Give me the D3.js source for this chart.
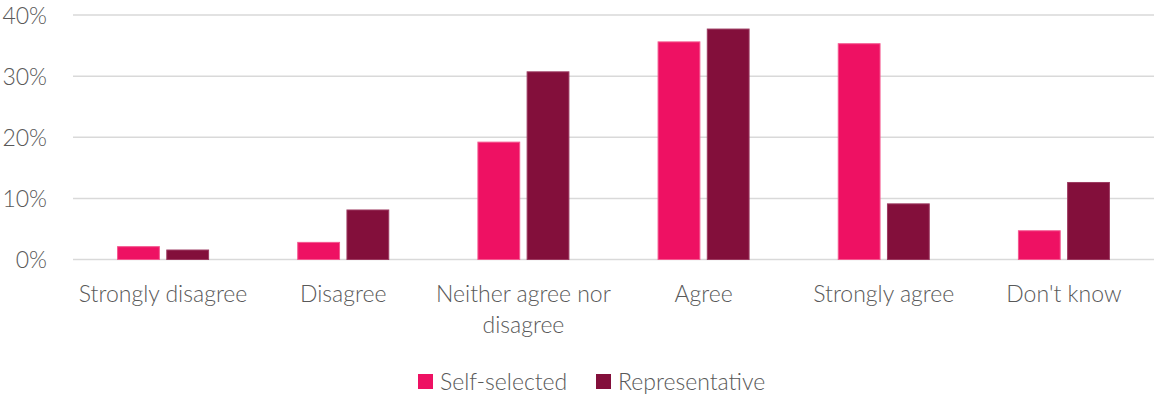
<!DOCTYPE html>
<html><head><meta charset="utf-8">
<script src="https://cdn.jsdelivr.net/npm/d3@7"></script>
<style>
html,body{margin:0;padding:0;background:#fff;}
text{font-family:"Lato","Open Sans",sans-serif;font-weight:300;fill:#595959;}
</style></head>
<body><svg id="c" width="1154" height="396"></svg>
<script>
const categories = [["Strongly disagree"],["Disagree"],["Neither agree nor","disagree"],["Agree"],["Strongly agree"],["Don't know"]];
const seriesNames = ["Self-selected","Representative"];
const selfSelected = [2.1, 2.8, 19.2, 35.6, 35.3, 4.7];
const representative = [1.55, 8.1, 30.7, 37.7, 9.1, 12.6];
const yTicks = [0,10,20,30,40];
const colors = ["#EE1163","#830F3B"];
const strokes = ["#F4578F","#9C3A60"];
const FS = "23px";

const svg = d3.select("#c");
const m = {l:73, r:0};
const W = 1154;
const x = d3.scaleBand().domain(d3.range(categories.length)).range([m.l, W-m.r]);
const y = d3.scaleLinear().domain([0,40]).range([259.5, 15]);

svg.append("g").selectAll("line").data(yTicks).join("line")
  .attr("x1", m.l).attr("x2", W).attr("y1", d=>y(d)).attr("y2", d=>y(d))
  .attr("stroke", "#d9d9d9").attr("stroke-width", 1.5);

const yAxis = d3.axisLeft(y).tickValues(yTicks).tickFormat(d=>d+"%").tickSize(0).tickPadding(0);
const ya = svg.append("g").attr("transform", `translate(47,0)`).call(yAxis);
ya.select(".domain").remove();
ya.selectAll("text").style("font-size",FS).attr("dy","0.35em").attr("fill","#595959");

const x1 = d3.scaleBand().domain([0,1]).range([0, 92]).paddingInner(12/92);
[selfSelected, representative].forEach((vals, s) => {
  svg.append("g").selectAll("rect").data(vals).join("rect")
    .attr("x", (d,i)=> x(i) + x.bandwidth()/2 - 46 + x1(s) + 0.5)
    .attr("width", x1.bandwidth() - 1)
    .attr("y", d=>y(d))
    .attr("height", d=>y(0)-y(d))
    .attr("fill", colors[s])
    .attr("stroke", strokes[s]).attr("stroke-width", 1);
});

const xl = svg.append("g");
categories.forEach((lines, i) => {
  const cx = x(i)+x.bandwidth()/2;
  const t = xl.append("text").attr("text-anchor","middle").attr("x", cx).attr("y", 302).style("font-size",FS);
  lines.forEach((ln, j) => t.append("tspan").attr("x", cx).attr("dy", j===0?0:31).text(ln));
});

const lg = svg.append("g");
const legendX = [418, 596];
seriesNames.forEach((n, s) => {
  lg.append("rect").attr("x", legendX[s]).attr("y", 374).attr("width", 15).attr("height", 15).attr("fill", colors[s]);
  lg.append("text").attr("x", legendX[s]+22).attr("y", 390).style("font-size",FS).text(n);
});
</script></body></html>
